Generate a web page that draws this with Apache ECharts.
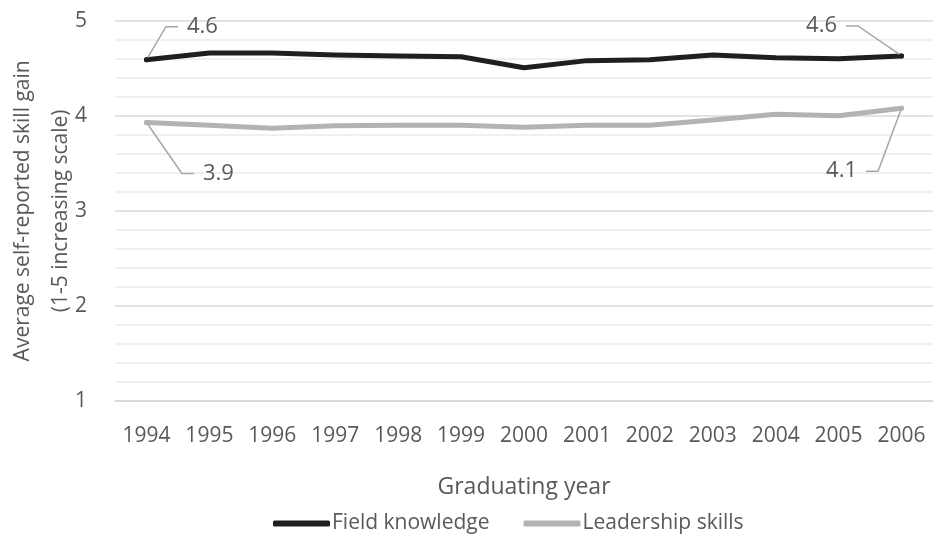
<!DOCTYPE html>
<html>
<head>
<meta charset="utf-8">
<script src="https://cdn.jsdelivr.net/npm/echarts@6/dist/echarts.min.js"></script>
<style>html,body{margin:0;padding:0;background:#fff}#c{width:933px;height:536px}</style>
</head>
<body>
<div id="c"></div>
<script>
var years = ['1994','1995','1996','1997','1998','1999','2000','2001','2002','2003','2004','2005','2006'];
var fieldKnowledge = [4.59, 4.66, 4.66, 4.64, 4.63, 4.62, 4.505, 4.58, 4.59, 4.64, 4.61, 4.60, 4.63];
var leadershipSkills = [3.93, 3.90, 3.87, 3.895, 3.90, 3.90, 3.88, 3.90, 3.90, 3.955, 4.015, 4.00, 4.08];
var endLabelsField = {0: '4.6', 12: '4.6'};
var endLabelsLead = {0: '3.9', 12: '4.1'};

var FONT = '"Open Sans", "Noto Sans", sans-serif';
var TXT = '#595959';

function buildData(vals, labels, color, offsets) {
  return vals.map(function (v, i) {
    if (labels[i] === undefined) return { value: v, symbolSize: 0 };
    var o = offsets[i];
    return {
      value: v,
      symbolSize: 5,
      itemStyle: { color: color },
      label: {
        show: true,
        formatter: labels[i],
        position: o.pos,
        distance: 5,
        color: TXT,
        fontSize: 22,
        fontFamily: FONT,
        backgroundColor: 'rgba(255,255,255,0)',
        padding: [0, 9, 0, 9]
      }
    };
  });
}

var fieldOffsets = { 0: { pos: 'right', dx: 24, dy: -33 }, 12: { pos: 'left', dx: -48, dy: -30 } };
var leadOffsets = { 0: { pos: 'right', dx: 40, dy: 51 }, 12: { pos: 'left', dx: -28, dy: 63 } };

function layoutFn(offsets) {
  return function (p) {
    var o = offsets[p.dataIndex];
    if (!o) return {};
    return { dx: o.dx, dy: o.dy };
  };
}

var chart = echarts.init(document.getElementById('c'), null, { renderer: 'canvas' });
chart.setOption({
  animation: false,
  textStyle: { fontFamily: FONT },
  grid: { left: 115, right: 0, top: 20.7, bottom: 135, containLabel: false, outerBoundsMode: 'none' },
  legend: {
    bottom: -3,
    left: 268,
    itemWidth: 57,
    itemHeight: 6,
    itemGap: 34,
    textStyle: { color: TXT, fontSize: 21, fontFamily: FONT, padding: [0, 0, 0, -3] },
    data: [
      { name: 'Field knowledge', icon: 'roundRect' },
      { name: 'Leadership skills', icon: 'roundRect' }
    ]
  },
  xAxis: {
    type: 'category',
    data: years,
    boundaryGap: true,
    name: 'Graduating year',
    nameLocation: 'middle',
    nameGap: 75,
    nameMoveOverlap: false,
    nameTextStyle: { color: TXT, fontSize: 23, fontFamily: FONT },
    axisLine: { show: true, lineStyle: { color: '#d6d6d6', width: 1.5 } },
    axisTick: { show: false },
    axisLabel: { color: TXT, fontSize: 21, fontFamily: FONT, margin: 25 }
  },
  yAxis: {
    type: 'value',
    min: 1,
    max: 5,
    interval: 1,
    name: 'Average self-reported skill gain\n(1-5 increasing scale)',
    nameLocation: 'middle',
    nameGap: 35,
    nameMoveOverlap: false,
    nameTextStyle: { color: TXT, fontSize: 21, fontFamily: FONT, lineHeight: 38 },
    axisLine: { show: false },
    axisTick: { show: false },
    axisLabel: { color: TXT, fontSize: 21, fontFamily: FONT, margin: 28 },
    splitLine: { show: true, lineStyle: { color: '#d9d9d9', width: 1.5 } },
    minorTick: { show: false, splitNumber: 5 },
    minorSplitLine: { show: true, lineStyle: { color: '#ececec', width: 1.5 } }
  },
  series: [
    {
      name: 'Field knowledge',
      type: 'line',
      data: buildData(fieldKnowledge, endLabelsField, '#1f1f1f', fieldOffsets),
      symbol: 'circle',
      showSymbol: true,
      color: '#1f1f1f',
      lineStyle: { color: '#1f1f1f', width: 5, cap: 'round', join: 'round' },
      labelLayout: layoutFn(fieldOffsets),
      labelLine: { show: true, length2: 12, lineStyle: { color: '#a6a6a6', width: 1.5 } },
      z: 3
    },
    {
      name: 'Leadership skills',
      type: 'line',
      data: buildData(leadershipSkills, endLabelsLead, '#b3b3b6', leadOffsets),
      symbol: 'circle',
      showSymbol: true,
      color: '#b3b3b6',
      lineStyle: { color: '#b3b3b6', width: 5, cap: 'round', join: 'round' },
      labelLayout: layoutFn(leadOffsets),
      labelLine: { show: true, length2: 12, lineStyle: { color: '#a6a6a6', width: 1.5 } },
      z: 2
    }
  ]
});
</script>
</body>
</html>
